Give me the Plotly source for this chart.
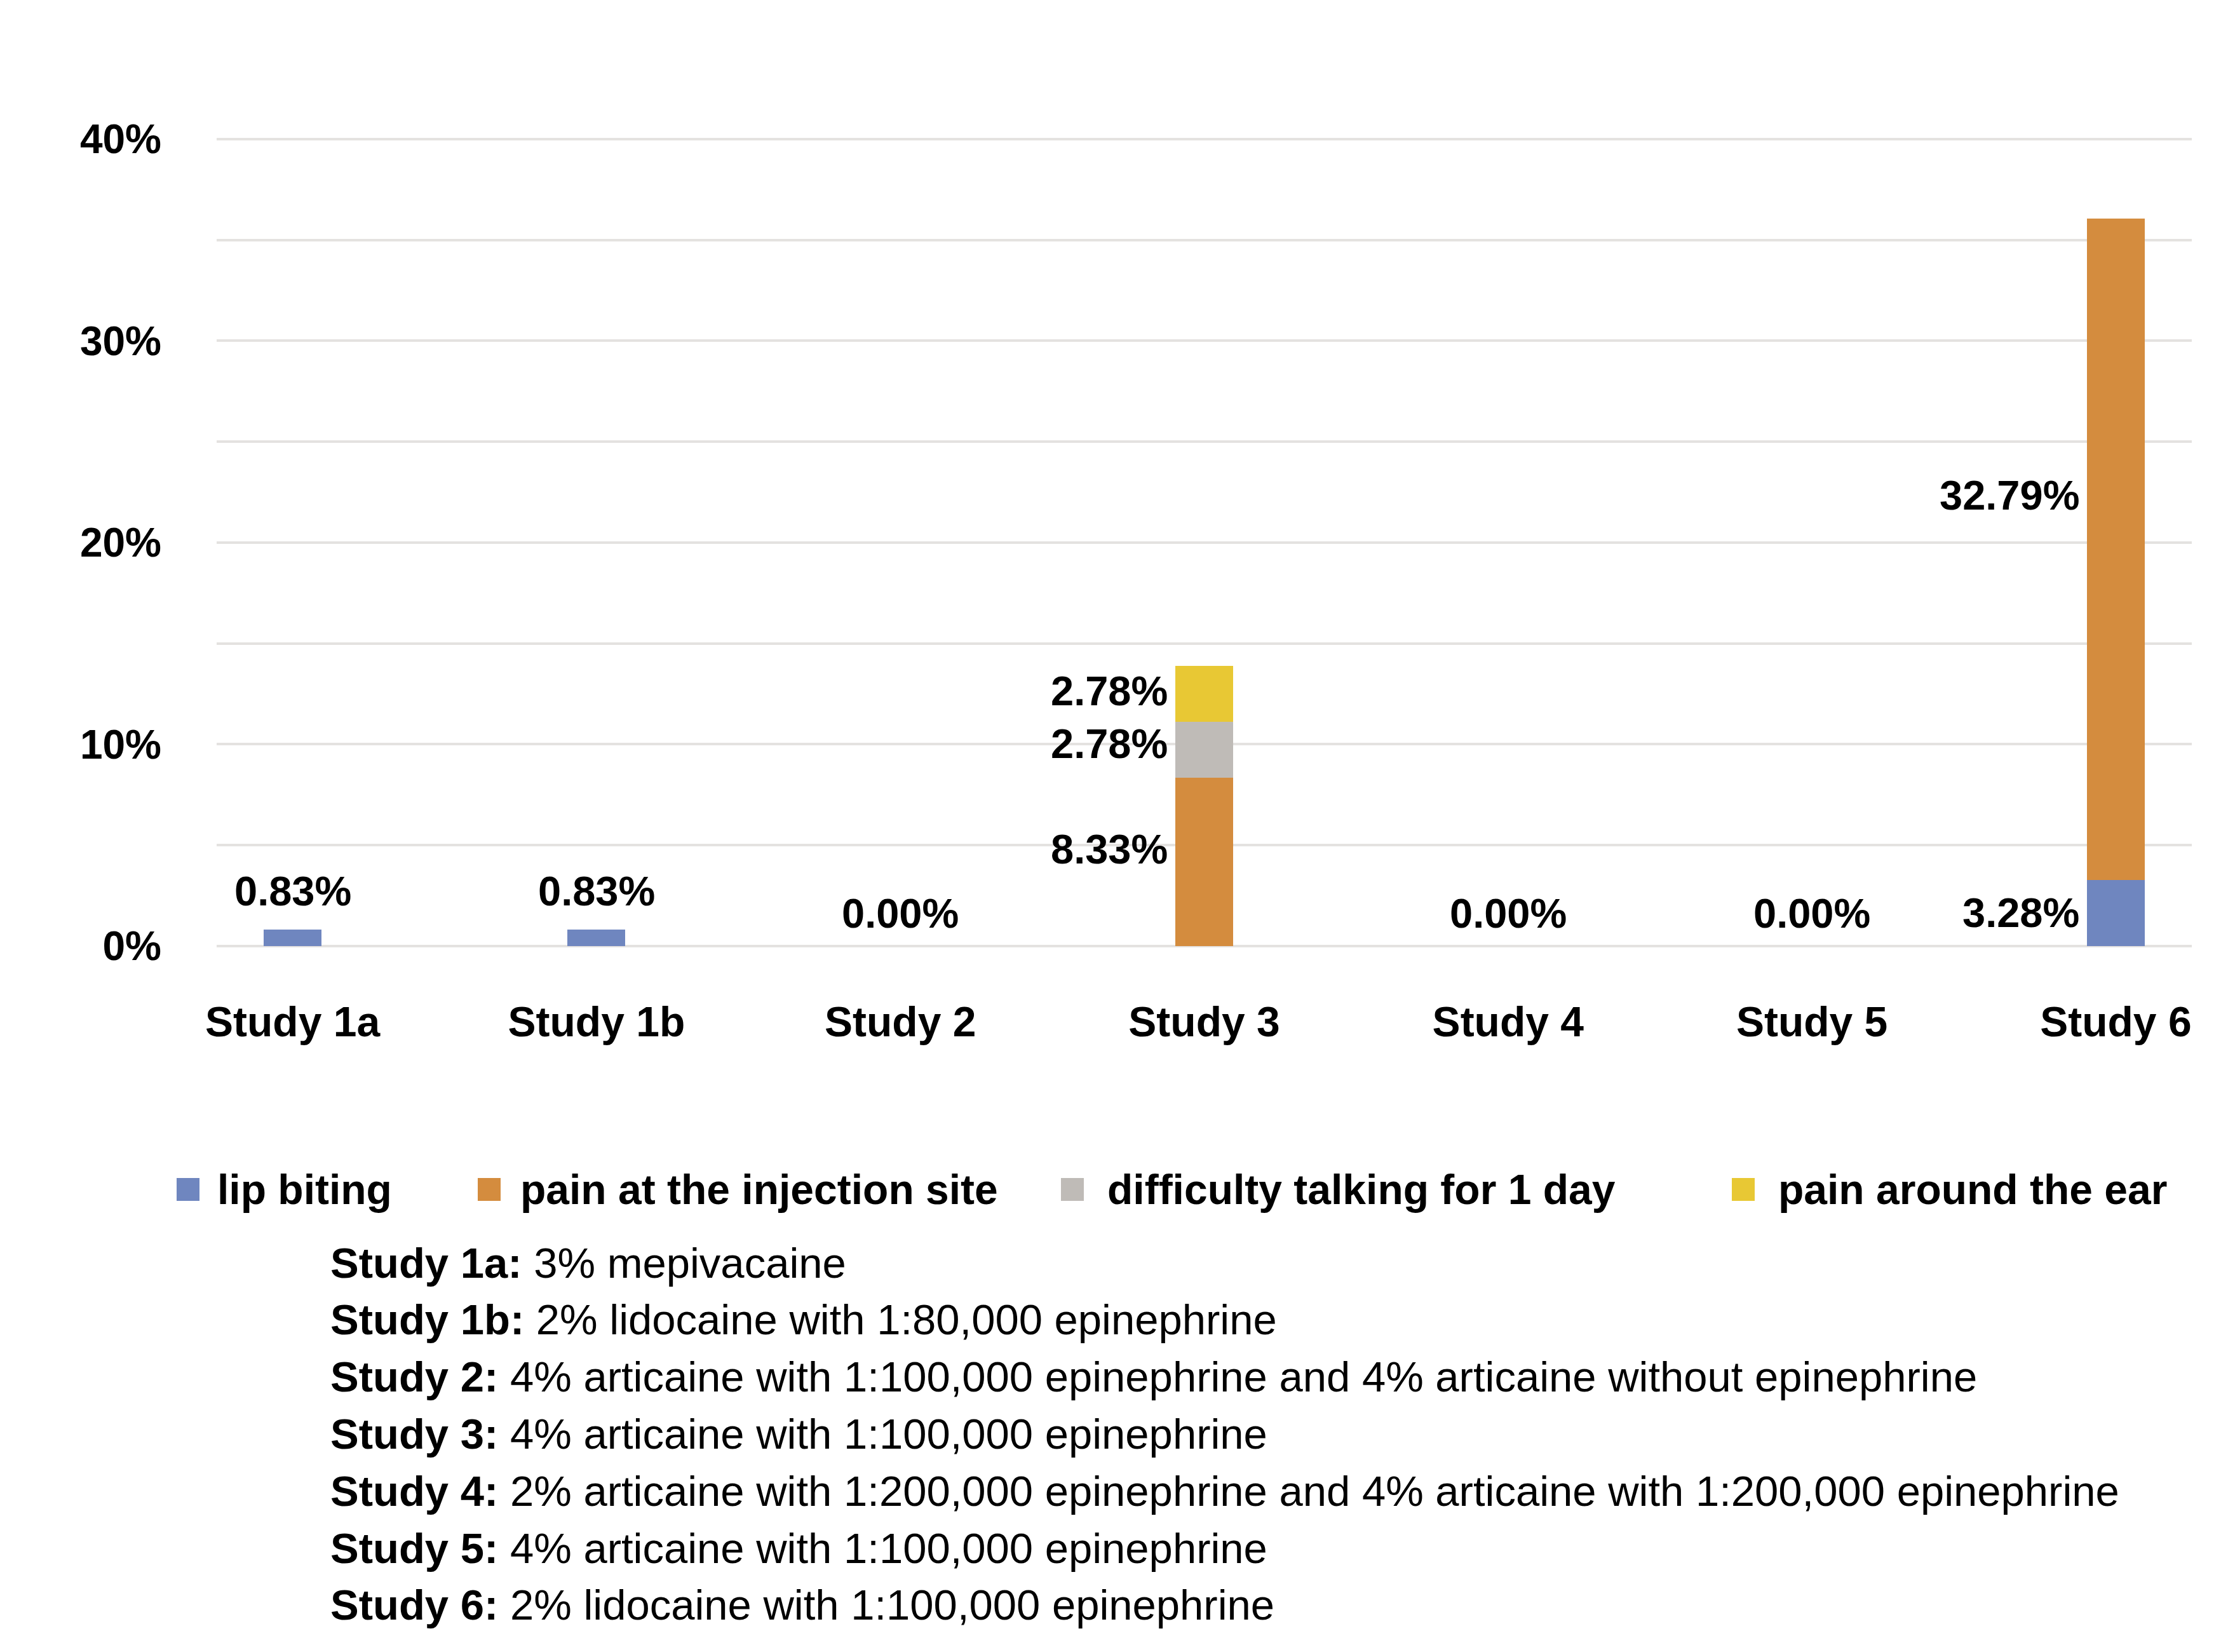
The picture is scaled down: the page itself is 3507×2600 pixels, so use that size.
import plotly.graph_objects as go

# ---------------- data ----------------
studies = ["Study 1a", "Study 1b", "Study 2", "Study 3", "Study 4", "Study 5", "Study 6"]
series_names = ["lip biting", "pain at the injection site", "difficulty talking for 1 day", "pain around the ear"]
lip_biting = [0.83, 0.83, 0.00, 0.00, 0.00, 0.00, 3.28]
pain_injection = [0.00, 0.00, 0.00, 8.33, 0.00, 0.00, 32.79]
difficulty_talking = [0.00, 0.00, 0.00, 2.78, 0.00, 0.00, 0.00]
pain_ear = [0.00, 0.00, 0.00, 2.78, 0.00, 0.00, 0.00]
y_ticks = [0, 10, 20, 30, 40]

desc_bold = ["Study 1a:", "Study 1b:", "Study 2:", "Study 3:", "Study 4:", "Study 5:", "Study 6:"]
desc_text = [
    "3% mepivacaine",
    "2% lidocaine with 1:80,000 epinephrine",
    "4% articaine with 1:100,000 epinephrine and 4% articaine without epinephrine",
    "4% articaine with 1:100,000 epinephrine",
    "2% articaine with 1:200,000 epinephrine and 4% articaine with 1:200,000 epinephrine",
    "4% articaine with 1:100,000 epinephrine",
    "2% lidocaine with 1:100,000 epinephrine",
]

# ---------------- style ----------------
colors = ["#6F86BF", "#D48C3E", "#BFBBB7", "#E8C834"]
GRID = "#E4E2E0"
FONT = "Liberation Sans, Arial, sans-serif"
W, H = 3507, 2600
PL, PR, PT, PB = 333, 3442, 207, 1481  # plot area in pixels
BAR_W = 0.19

def xp(px):
    return (px - PL) / (PR - PL)

def yp(py):
    return (PB - py) / (PB - PT)

series = [lip_biting, pain_injection, difficulty_talking, pain_ear]

fig = go.Figure()
for name, vals, col in zip(series_names, series, colors):
    fig.add_trace(go.Bar(
        x=list(range(len(studies))), y=[v / 100 for v in vals], name=name,
        marker=dict(color=col, line=dict(width=0)), width=BAR_W,
        showlegend=False, hoverinfo="name+y",
    ))

annotations = []
label_font = dict(family=FONT, size=65, color="black", weight=700)
# label nudges (pixels) for individual labels: (study index, series index) -> yshift
nudge = {(6, 1): 85, (3, 1): 20, (3, 2): 10, (3, 3): 5}
for i in range(len(studies)):
    nonzero = [k for k in range(len(series)) if series[k][i] > 0]
    if not nonzero or nonzero == [0] and i != 6:
        v = lip_biting[i]
        annotations.append(dict(
            x=i, y=v / 100, xref="x", yref="y", text=f"{v:.2f}%", showarrow=False,
            xanchor="center", yanchor="middle", yshift=60 if v > 0 else 52, font=label_font,
        ))
    else:
        base = 0.0
        for k in range(len(series)):
            v = series[k][i]
            if v > 0:
                annotations.append(dict(
                    x=i - BAR_W / 2, y=(base + v / 2) / 100, xref="x", yref="y",
                    text=f"{v:.2f}%", showarrow=False, xanchor="right", yanchor="middle",
                    xshift=-10, yshift=nudge.get((i, k), 0), font=label_font,
                ))
            base += v

# legend (manual, large squares)
shapes = []
legend_sq_x = [270, 744, 1662, 2718]
legend_txt_x = [332, 809, 1733, 2789]
leg_y = 1864
sq = 36
for name, col, sx, tx in zip(series_names, colors, legend_sq_x, legend_txt_x):
    shapes.append(dict(type="rect", xref="paper", yref="paper",
                       x0=xp(sx), x1=xp(sx + sq), y0=yp(leg_y + sq / 2), y1=yp(leg_y - sq / 2),
                       fillcolor=col, line=dict(width=0)))
    annotations.append(dict(x=xp(tx), y=yp(leg_y), xref="paper", yref="paper", text=name,
                            showarrow=False, xanchor="left", yanchor="middle",
                            font=dict(family=FONT, size=66, color="black", weight=700)))

# description lines
desc_y0, desc_dy = 1979, 89.8
for j, (b, t) in enumerate(zip(desc_bold, desc_text)):
    annotations.append(dict(x=xp(510), y=yp(desc_y0 + j * desc_dy), xref="paper", yref="paper",
                            text=f"<b>{b}</b> {t}", showarrow=False, xanchor="left",
                            yanchor="middle", font=dict(family=FONT, size=67, color="black")))

fig.update_layout(
    width=W, height=H, barmode="stack", bargap=0,
    paper_bgcolor="white", plot_bgcolor="white",
    margin=dict(l=PL, r=W - PR, t=PT, b=H - PB, autoexpand=False),
    font=dict(family=FONT, color="black"),
    annotations=annotations, shapes=shapes, showlegend=False,
)
fig.update_xaxes(
    range=[-0.25, 6.25], tickvals=list(range(len(studies))), ticktext=studies,
    tickfont=dict(family=FONT, size=66, color="black", weight=700),
    showgrid=False, zeroline=False, showline=False, ticks="", ticklabelstandoff=75,
)
fig.update_yaxes(
    range=[0, 0.4012], tickvals=[v / 100 for v in y_ticks], ticktext=[f"{v}%" for v in y_ticks],
    tickfont=dict(family=FONT, size=64, color="black", weight=700),
    showgrid=True, gridcolor=GRID, gridwidth=4,
    minor=dict(dtick=0.05, showgrid=True, gridcolor=GRID, gridwidth=4, tick0=0),
    zeroline=True, zerolinecolor=GRID, zerolinewidth=4, showline=False,
    ticks="", ticklabelstandoff=86,
)

fig.write_html("out.html")
